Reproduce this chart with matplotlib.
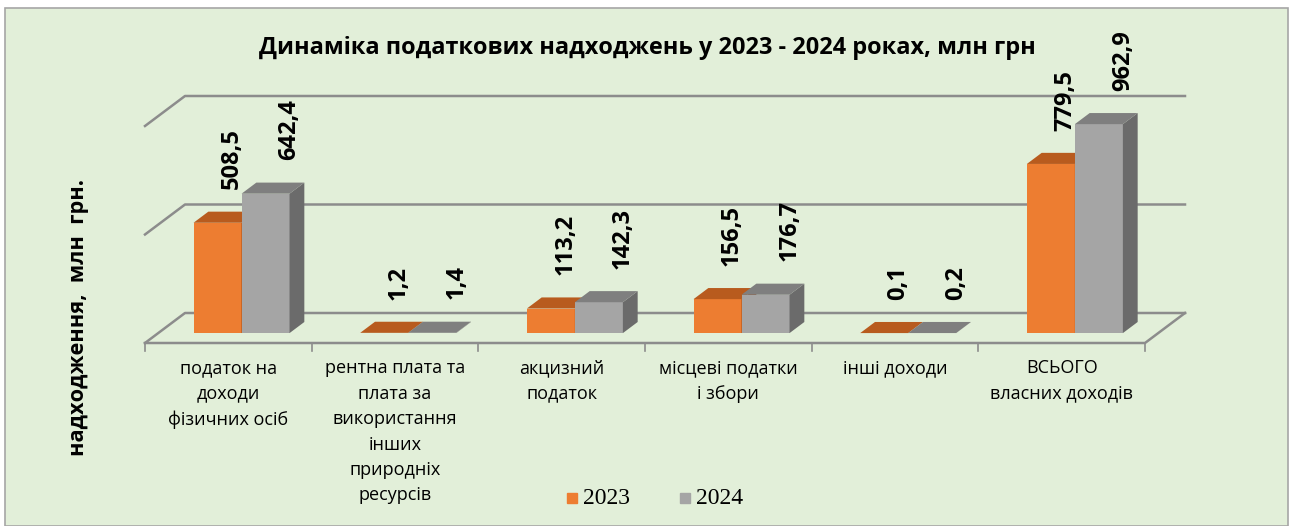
import numpy as np
import matplotlib.pyplot as plt
from matplotlib.patches import Rectangle

categories = ["податок на\nдоходи\nфізичних осіб",
              "рентна плата та\nплата за\nвикористання\nінших\nприродніх\nресурсів",
              "акцизний\nподаток",
              "місцеві податки\nі збори",
              "інші доходи",
              "ВСЬОГО\nвласних доходів"]
v2023 = [508.5, 1.2, 113.2, 156.5, 0.1, 779.5]
v2024 = [642.4, 1.4, 142.3, 176.7, 0.2, 962.9]
labels2023 = ["508,5", "1,2", "113,2", "156,5", "0,1", "779,5"]
labels2024 = ["642,4", "1,4", "142,3", "176,7", "0,2", "962,9"]
grid_vals = [0, 500, 1000]

bg = "#E2EFD9"
line_c = "#8C8C8C"
orange = ["#ED7D31", "#B85B1E", "#A04E18"]   # front, top, side
grey = ["#A5A5A5", "#7F7F7F", "#6B6B6B"]

fig = plt.figure(figsize=(12.97, 5.26), dpi=100)
fig.patch.set_facecolor("white")
fig.patches.append(Rectangle((5 / 1297, 0), 1283 / 1297, 518 / 526, transform=fig.transFigure,
                             facecolor=bg, edgecolor="#A6A6A6", lw=1.2, zorder=-1))

ax = fig.add_axes([145 / 1297, (526 - 343) / 526, 1000 / 1297, 279.5 / 526])
ax.set_xlim(0, 6)
ax.set_ylim(0, 1288)
ax.axis("off")

# depth of the floor in data units (40 px right, 30 px up)
DX = 40 / (1000 / 6)
DY = 30 / 0.217
n = len(categories)

# floor / walls
for g in grid_vals:
    ax.plot([0, DX, n + DX], [g, g + DY, g + DY], color=line_c, lw=1.8, zorder=1, clip_on=False)
ax.plot([0, n, n + DX], [0, 0, DY], color=line_c, lw=1.8, zorder=1, clip_on=False)
for i in range(n + 1):
    ax.plot([i, i], [0, -35], color=line_c, lw=1.2, clip_on=False)

f0, f1 = 0.33, 0.70
w = 0.288


def bar3d(x0, val, cols):
    bx = x0 + f0 * DX
    by = f0 * DY
    ddx = (f1 - f0) * DX
    ddy = (f1 - f0) * DY
    ax.bar(bx, val, width=w, bottom=by, align="edge", color=cols[0], zorder=3)
    ax.fill([bx + w, bx + w + ddx, bx + w + ddx, bx + w],
            [by, by + ddy, by + val + ddy, by + val], color=cols[2], lw=0, zorder=3)
    ax.fill([bx, bx + w, bx + w + ddx, bx + ddx],
            [by + val, by + val, by + val + ddy, by + val + ddy], color=cols[1], lw=0, zorder=3)
    return bx + w / 2 + ddx / 2, by + val + ddy / 2


for i in range(n):
    c = i + 0.5
    xo, yo = bar3d(c - w, v2023[i], orange)
    ax.annotate(labels2023[i], (xo, yo), xytext=(5, 20), textcoords="offset points",
                rotation=90, ha="center", va="bottom", fontsize=17, fontweight="bold",
                family="Open Sans")
    xg, yg = bar3d(c, v2024[i], grey)
    ax.annotate(labels2024[i], (xg, yg), xytext=(12, 20), textcoords="offset points",
                rotation=90, ha="center", va="bottom", fontsize=17, fontweight="bold",
                family="Open Sans")
    ax.text(c, -75, categories[i], ha="center", va="top", fontsize=13, family="Open Sans",
            linespacing=1.53)

fig.text(647 / 1297, 1 - 48 / 526, "Динаміка податкових надходжень у 2023 - 2024 роках, млн грн",
         ha="center", va="center", fontsize=16.9, fontweight="bold", family="Open Sans")
fig.text(79 / 1297, 1 - 318 / 526, "надходження,  млн  грн.", rotation=90, ha="center",
         va="center", fontsize=15.7, fontweight="bold", family="Open Sans")

# legend
fig.patches.append(Rectangle((567 / 1297, 1 - 503 / 526), 10 / 1297, 10 / 526,
                             transform=fig.transFigure, color=orange[0]))
fig.text(583 / 1297, 1 - 498 / 526, "2023", va="center", fontsize=17, family="Liberation Serif")
fig.patches.append(Rectangle((680 / 1297, 1 - 503 / 526), 10 / 1297, 10 / 526,
                             transform=fig.transFigure, color=grey[0]))
fig.text(696 / 1297, 1 - 498 / 526, "2024", va="center", fontsize=17, family="Liberation Serif")

fig.savefig("out.png", dpi=100, facecolor=fig.get_facecolor())
